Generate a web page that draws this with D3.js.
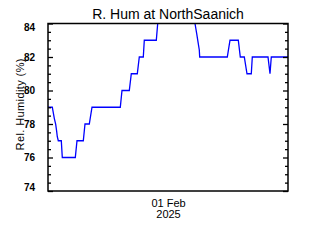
<!DOCTYPE html>
<meta charset="utf-8">
<script src="https://d3js.org/d3.v7.min.js"></script>
<style>
  body { margin: 0; background: #fff; }
  svg text { font-family: "Liberation Sans", Arial, sans-serif; fill: #000; }
</style>
<div id="chart"></div>
<script>
// hours after 31 Jan 2025 00:00, and the relative humidity (%) at that time
const hours = [0, 0.86, 1.26, 1.54, 1.74, 1.86, 2.06, 2.66, 2.86, 5.46, 5.8, 7.06, 7.4, 8.26, 8.8,
  14.46, 14.8, 16.26, 16.66, 17.86, 18.26, 19.06, 19.26, 21.66, 21.94, 22.2, 29.1, 29.4, 29.74,
  30.0, 30.26, 30.34, 35.86, 36.4, 38.06, 38.46, 39.26, 39.8, 40.66, 40.86, 44.0, 44.4, 44.66, 48];
const humidity = [79, 79, 78.34, 77.98, 77.54, 77.24, 77, 77, 76, 76, 77, 77, 78, 78, 79,
  79, 80, 80, 81, 81, 82, 82, 83, 83, 84, 85, 85, 84, 83.4,
  82.9, 82.42, 82, 82, 83, 83, 82, 82, 81, 81, 82, 82, 81, 82, 82];
const yMajor = [74, 76, 78, 80, 82, 84];
const xTicks = [new Date(2025, 1, 1)];

const title = "R. Hum at NorthSaanich";
const yTitle = "Rel. Humidity (%)";

const W = 320, H = 240;
const margin = {top: 23.5, right: 32, bottom: 49, left: 48};
const width = W - margin.left - margin.right,
      height = H - margin.top - margin.bottom;

const start = new Date(2025, 0, 31);
const data = hours.map((h, i) => ({t: new Date(+start + h * 3600e3), v: humidity[i]}));

const svg = d3.select("#chart").append("svg")
    .attr("width", W).attr("height", H);
const g = svg.append("g").attr("transform", `translate(${margin.left},${margin.top})`);

const x = d3.scaleTime().domain([start, new Date(2025, 1, 2)]).range([0, width]);
const y = d3.scaleLinear().domain([74, 84]).range([height, 0]);

// clip the line to the plot box
svg.append("defs").append("clipPath").attr("id", "plotclip")
  .append("rect").attr("width", width).attr("height", height);

g.append("path")
    .datum(data)
    .attr("clip-path", "url(#plotclip)")
    .attr("fill", "none")
    .attr("stroke", "#0000ff")
    .attr("stroke-width", 1.3)
    .attr("d", d3.line().x(d => x(d.t)).y(d => y(d.v)));

// minor ticks every 0.5
const yMinor = d3.range(74, 84.01, 0.5).filter(v => !yMajor.includes(v));
g.append("g").call(d3.axisLeft(y).tickValues(yMinor).tickSize(-3).tickFormat(""))
  .call(a => a.select(".domain").remove());
g.append("g").attr("transform", `translate(${width},0)`)
  .call(d3.axisRight(y).tickValues(yMinor).tickSize(-3).tickFormat(""))
  .call(a => a.select(".domain").remove());

// major ticks with labels on the left
const left = g.append("g").call(d3.axisLeft(y).tickValues(yMajor).tickSize(-5).tickPadding(13));
left.select(".domain").remove();
left.selectAll("text")
    .style("font-size", "10px").style("font-weight", "bold")
    .attr("dy", d => d === 74 ? "-0.05em" : d === 84 ? "0.7em" : "0.32em");
g.append("g").attr("transform", `translate(${width},0)`)
  .call(d3.axisRight(y).tickValues(yMajor).tickSize(-5).tickFormat(""))
  .call(a => a.select(".domain").remove());

g.selectAll(".tick line").attr("stroke", "#000").attr("stroke-width", 1.3);

// x axis: one date label, no tick marks
const xAxis = g.append("g").attr("transform", `translate(0,${height})`)
  .call(d3.axisBottom(x).tickValues(xTicks).tickSize(0).tickPadding(8).tickFormat(d3.timeFormat("%d %b")));
xAxis.select(".domain").remove();
xAxis.selectAll("text").style("font-size", "11px");
xAxis.selectAll(".tick").append("text")
    .attr("y", 8).attr("dy", "1.71em")
    .attr("text-anchor", "middle")
    .style("font-size", "11px")
    .text(d => d3.timeFormat("%Y")(d));

// plot frame
g.append("rect")
    .attr("width", width).attr("height", height)
    .attr("fill", "none").attr("stroke", "#000").attr("stroke-width", 1.5);

svg.append("text")
    .attr("x", margin.left + width / 2).attr("y", 19)
    .attr("text-anchor", "middle")
    .style("font-size", "14px")
    .text(title);

svg.append("text")
    .attr("transform", `translate(24,${margin.top + height / 2 - 3}) rotate(-90)`)
    .attr("text-anchor", "middle")
    .style("font-size", "11px")
    .style("letter-spacing", "0.4px")
    .text(yTitle);
</script>
